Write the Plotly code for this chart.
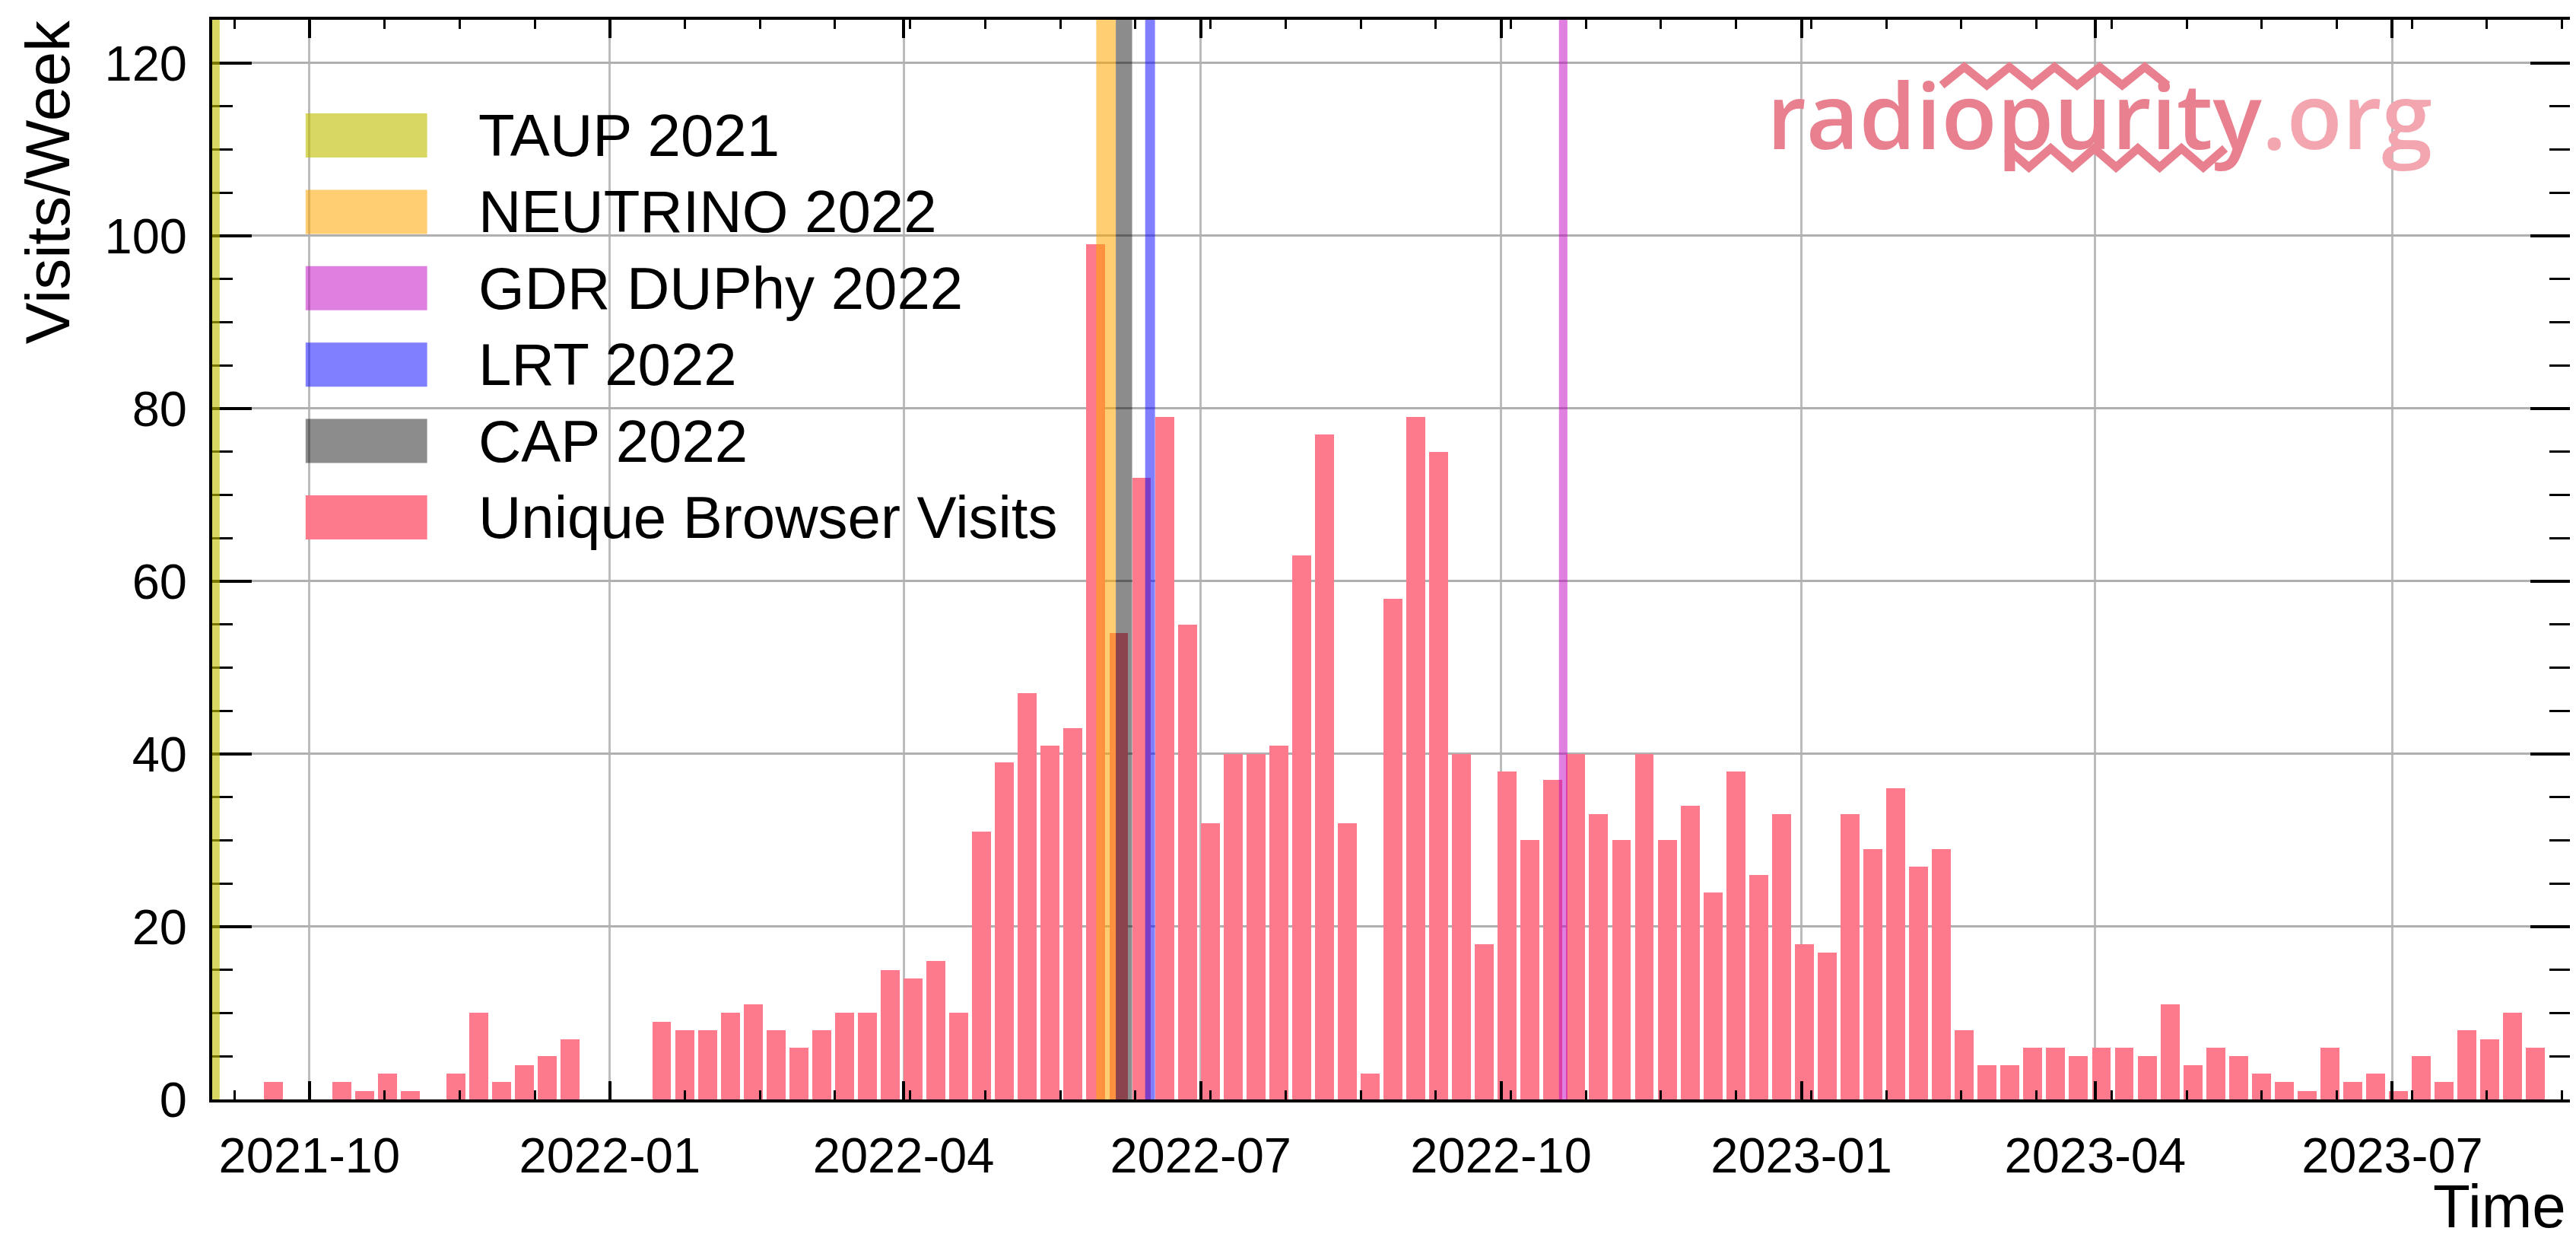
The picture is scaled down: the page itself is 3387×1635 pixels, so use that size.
import pandas as pd
import plotly.graph_objects as go

# ---------------- data ----------------
week_start = pd.date_range("2021-09-03", periods=102, freq="7D")
visits = [0, 0, 2, 0, 0, 2, 1, 3, 1, 0,
          3, 10, 2, 4, 5, 7, 0, 0, 0, 9,
          8, 8, 10, 11, 8, 6, 8, 10, 10, 15,
          14, 16, 10, 31, 39, 47, 41, 43, 99, 54,
          72, 79, 55, 32, 40, 40, 41, 63, 77, 32,
          3, 58, 79, 75, 40, 18, 38, 30, 37, 40,
          33, 30, 40, 30, 34, 24, 38, 26, 33, 18,
          17, 33, 29, 36, 27, 29, 8, 4, 4, 6,
          6, 5, 6, 6, 5, 11, 4, 6, 5, 3,
          2, 1, 6, 2, 3, 1, 5, 2, 8, 7,
          10, 6]

event_names = ["TAUP 2021", "NEUTRINO 2022", "GDR DUPhy 2022", "LRT 2022", "CAP 2022"]
event_start = ["2021-08-26", "2022-05-30", "2022-10-18 18:00", "2022-06-14", "2022-06-05"]
event_end = ["2021-09-03 12:00", "2022-06-05", "2022-10-21 08:00", "2022-06-17", "2022-06-10"]
series_name = "Unique Browser Visits"

y_ticks = [0, 20, 40, 60, 80, 100, 120]

# ---------------- style / layout (page pixels) ----------------
W, H = 3387, 1635
OFF = 8  # default page body margin
FW, FH = W - OFF, H - OFF
L, R, T, B = 279 - OFF, 3383 - OFF, 26 - OFF, 1445 - OFF
FONT = "Liberation Sans, Arial, sans-serif"
event_colors = ["rgba(191,191,0,0.62)", "rgba(255,165,0,0.55)", "rgba(191,0,191,0.5)",
                "rgba(0,0,255,0.5)", "rgba(0,0,0,0.45)"]
bar_color = "#fd7a8c"
logo_pink = "#e8808f"


def px_x(p):
    """page x pixel -> paper fraction"""
    return (p - OFF - L) / (R - L)


def px_y(p):
    """page y pixel -> paper fraction"""
    return (B - (p - OFF)) / (B - T)


DAY_MS = 86400000

fig = go.Figure()
fig.add_trace(go.Bar(
    x=week_start, y=visits, name=series_name,
    width=5.8 * DAY_MS, offset=0,
    marker=dict(color=bar_color, line=dict(width=0)),
    showlegend=False,
))

shapes = []
# white box behind the logo (covers gridlines)
shapes.append(dict(type="rect", xref="paper", yref="paper", layer="between",
                   x0=px_x(2291), x1=px_x(3232), y0=px_y(240), y1=1,
                   fillcolor="white", line=dict(width=0)))
# event bands
for s, e, c in zip(event_start, event_end, event_colors):
    shapes.append(dict(type="rect", xref="x", yref="paper", layer="above",
                       x0=s, x1=e, y0=0, y1=1, fillcolor=c, line=dict(width=0)))


# zigzags of the logo
def zigzag(x0, x1, ytop, ybot, n, start_low=True):
    pts = []
    steps = 2 * n
    for k in range(steps + 1):
        x = x0 + (x1 - x0) * k / steps
        low = (k % 2 == 0) == start_low
        y = ybot if low else ytop
        pts.append((px_x(x), px_y(y)))
    return "M " + " L ".join(f"{a:.5f},{b:.5f}" for a, b in pts)


shapes.append(dict(type="path", xref="paper", yref="paper", layer="above",
                   path=zigzag(2556, 2853, 88, 112, 5, True),
                   line=dict(color=logo_pink, width=11)))
shapes.append(dict(type="path", xref="paper", yref="paper", layer="above",
                   path=zigzag(2642, 2929, 195, 220, 5, False),
                   line=dict(color=logo_pink, width=11)))

annotations = []
# custom legend
legend_labels = event_names + [series_name]
legend_colors = event_colors + [bar_color]
for i, (lab, col) in enumerate(zip(legend_labels, legend_colors)):
    yc = 178 + 100.4 * i
    shapes.append(dict(type="rect", xref="paper", yref="paper", layer="above",
                       x0=px_x(402), x1=px_x(562), y0=px_y(yc + 29), y1=px_y(yc - 29),
                       fillcolor=col, line=dict(width=0)))
    annotations.append(dict(xref="paper", yref="paper", x=px_x(627), y=px_y(yc),
                            xanchor="left", yanchor="middle", text=lab, showarrow=False,
                            font=dict(family=FONT, size=78, color="black")))

# axis titles
annotations.append(dict(xref="paper", yref="paper", x=px_x(62), y=px_y(24),
                        xanchor="center", yanchor="top", text="Visits/Week", textangle=-90,
                        showarrow=False, font=dict(family=FONT, size=82, color="black")))
annotations.append(dict(xref="paper", yref="paper", x=px_x(3380), y=px_y(1632),
                        xanchor="right", yanchor="bottom", text="Time",
                        showarrow=False, font=dict(family=FONT, size=80, color="black")))
# logo text
annotations.append(dict(xref="paper", yref="paper", x=px_x(2764), y=px_y(150),
                        xanchor="center", yanchor="middle",
                        text="radiopurity<span style='color:#f3a6b0'>.org</span>",
                        showarrow=False,
                        font=dict(family="Open Sans", size=120, color=logo_pink, weight=600)))

fig.update_layout(
    width=FW, height=FH,
    margin=dict(l=L, r=FW - R, t=T, b=FH - B, pad=0),
    paper_bgcolor="white", plot_bgcolor="white",
    shapes=shapes, annotations=annotations,
    showlegend=False, bargap=0,
    font=dict(family=FONT, color="black"),
)

fig.update_xaxes(
    type="date", range=["2021-09-01 05:00", "2023-08-24 10:00"],
    tick0="2021-10-01", dtick="M3", tickformat="%Y-%m",
    ticks="inside", ticklen=24, tickwidth=4, tickcolor="black",
    showline=True, linecolor="black", linewidth=4, mirror="allticks",
    showgrid=True, gridcolor="#bcbcbc", gridwidth=3,
    tickfont=dict(family=FONT, size=65, color="black"),
    ticklabelstandoff=14,
    minor=dict(tick0="2021-10-01", dtick=23 * DAY_MS, ticks="inside", ticklen=12,
               tickwidth=3, tickcolor="black", showgrid=False),
    layer="above traces", zeroline=False,
)
fig.update_yaxes(
    range=[0, 125], tickvals=y_ticks,
    ticks="inside", ticklen=52, tickwidth=4, tickcolor="black",
    showline=True, linecolor="black", linewidth=4, mirror="allticks",
    showgrid=True, gridcolor="#b0b0b0", gridwidth=3,
    tickfont=dict(family=FONT, size=65, color="black"),
    ticklabelstandoff=16,
    minor=dict(dtick=5, ticks="inside", ticklen=27, tickwidth=3, tickcolor="black",
               showgrid=False),
    layer="above traces", zeroline=False,
)

fig.write_html("out.html")
